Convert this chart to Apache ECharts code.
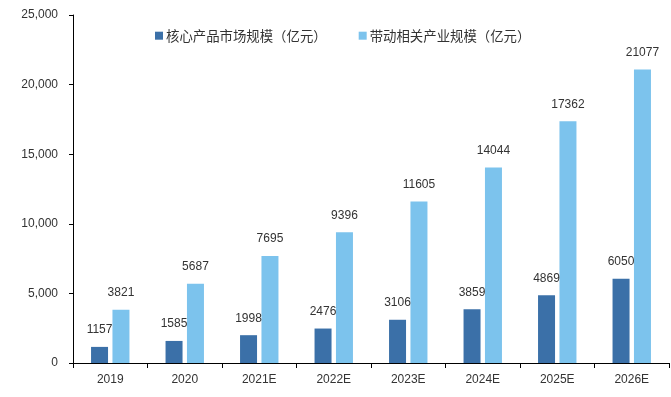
<!DOCTYPE html>
<html>
<head>
<meta charset="utf-8">
<script src="https://cdn.jsdelivr.net/npm/echarts@6/dist/echarts.min.js"></script>
<style>
  html, body { margin: 0; padding: 0; background: #fff; }
  #chart { width: 671px; height: 397px; }
</style>
</head>
<body>
<div id="chart"></div>
<script>
  // 数据
  var years = ['2019', '2020', '2021E', '2022E', '2023E', '2024E', '2025E', '2026E'];
  var coreMarket = [1157, 1585, 1998, 2476, 3106, 3859, 4869, 6050];
  var relatedIndustry = [3821, 5687, 7695, 9396, 11605, 14044, 17362, 21077];
  var yTicks = [0, 5000, 10000, 15000, 20000, 25000];

  var myChart = echarts.init(document.getElementById('chart'));
  var labelFont = 'Liberation Sans, Arial, sans-serif';
  var barLabel = {
    show: true,
    position: 'top',
    distance: 11,
    color: '#333',
    fontSize: 12,
    fontFamily: labelFont
  };

  var option = {
    animation: false,
    color: ['#3b70a8', '#7cc3ed'],
    legend: {
      left: 150,
      top: 24,
      itemWidth: 8,
      itemHeight: 8,
      itemGap: 32,
      icon: 'rect',
      textStyle: {
        fontFamily: 'Noto Sans CJK SC',
        fontSize: 13.4,
        color: '#333',
        padding: [0, 0, 0, -2]
      },
      data: ['核心产品市场规模（亿元）', '带动相关产业规模（亿元）']
    },
    grid: {
      left: 73,
      right: 2,
      top: 15,
      bottom: 34
    },
    xAxis: {
      type: 'category',
      data: years,
      axisLine: { lineStyle: { color: '#000', width: 1 } },
      axisTick: { show: true, length: 5, lineStyle: { color: '#000' } },
      axisLabel: {
        margin: 11,
        color: '#333',
        fontSize: 12,
        fontFamily: labelFont
      }
    },
    yAxis: {
      type: 'value',
      min: yTicks[0],
      max: yTicks[yTicks.length - 1],
      interval: yTicks[1] - yTicks[0],
      splitLine: { show: false },
      axisLine: { show: true, lineStyle: { color: '#000', width: 1 } },
      axisTick: { show: true, length: 4, lineStyle: { color: '#000' } },
      axisLabel: {
        margin: 15,
        color: '#333',
        fontSize: 12,
        fontFamily: labelFont,
        formatter: function (v) {
          return v.toString().replace(/\B(?=(\d{3})+(?!\d))/g, ',');
        }
      }
    },
    series: [
      {
        name: '核心产品市场规模（亿元）',
        type: 'bar',
        data: coreMarket,
        barWidth: 17,
        barGap: '26%',
        label: barLabel
      },
      {
        name: '带动相关产业规模（亿元）',
        type: 'bar',
        data: relatedIndustry,
        barWidth: 17,
        label: barLabel
      }
    ]
  };
  myChart.setOption(option);
</script>
</body>
</html>
